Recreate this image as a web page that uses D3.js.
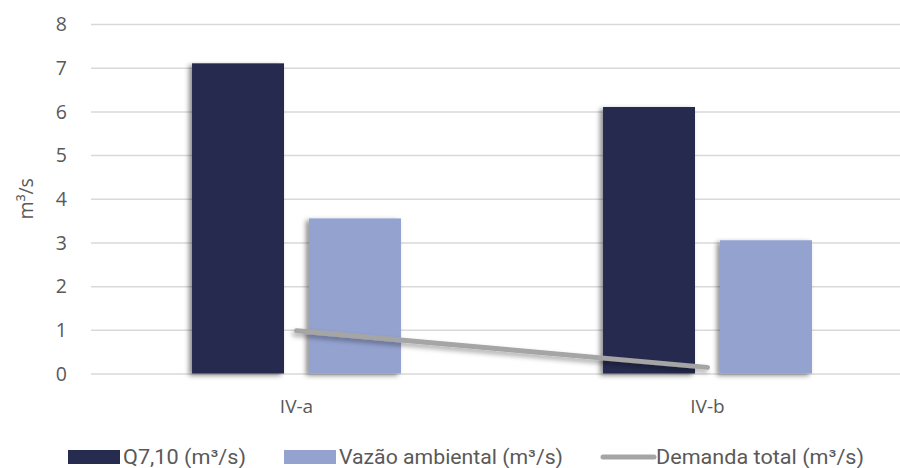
<!DOCTYPE html>
<html>
<head>
<meta charset="utf-8">
<script src="https://cdn.jsdelivr.net/npm/d3@7"></script>
<style>
  html, body { margin: 0; padding: 0; background: #fff; }
  svg { display: block; }
  text { font-family: "Open Sans", "Noto Sans", sans-serif; fill: #595959; }
  .legend text { font-family: "Roboto", "Liberation Sans", sans-serif; }
</style>
</head>
<body>
<svg id="chart" width="900" height="468"></svg>
<script>
// Flow data per sub-basin
const categories = ["IV-a", "IV-b"];
const q710 = [7.1, 6.1];
const vazaoAmbiental = [3.55, 3.05];
const demandaTotal = [0.98, 0.14];
const yTicks = [0, 1, 2, 3, 4, 5, 6, 7, 8];
const seriesNames = ["Q7,10 (m³/s)", "Vazão ambiental (m³/s)", "Demanda total (m³/s)"];

const colors = { q: "#252C50", v: "#94A2D0", d: "#A5A5A5", grid: "#D9D9D9" };

const svg = d3.select("#chart");
const W = 900, H = 468;
const plot = { left: 91, right: 913, top: 24, bottom: 373.5 };

const defs = svg.append("defs");
const shadow = defs.append("filter").attr("id", "shadow")
  .attr("x", "-20%").attr("y", "-10%").attr("width", "140%").attr("height", "130%");
shadow.append("feDropShadow").attr("dx", -3).attr("dy", 2).attr("stdDeviation", 2.5)
  .attr("flood-color", "#000").attr("flood-opacity", 0.45);
const lshadow = defs.append("filter").attr("id", "lshadow")
  .attr("x", "-10%").attr("y", "-100%").attr("width", "120%").attr("height", "400%");
lshadow.append("feDropShadow").attr("dx", -2).attr("dy", 3).attr("stdDeviation", 2.5)
  .attr("flood-color", "#000").attr("flood-opacity", 0.35);

const x = d3.scaleBand().domain(categories).range([plot.left, plot.right]).paddingInner(0).paddingOuter(0);
const y = d3.scaleLinear().domain([0, 8]).range([plot.bottom, plot.top]);

// Bar geometry: groups occupy the middle of each band, with a gap between the two bars
const step = x.bandwidth();
const barW = step * 0.2238;
const barGap = step * 0.0608;
const groupW = barW * 2 + barGap;
const barX = (c, i) => x(c) + (step - groupW) / 2 + i * (barW + barGap);

// Gridlines and value ticks
const yAxis = d3.axisLeft(y).tickValues(yTicks).tickSize(-(W - plot.left)).tickFormat(d3.format("d"));
const ga = svg.append("g").attr("transform", `translate(${plot.left},0)`).call(yAxis);
ga.select(".domain").remove();
ga.selectAll(".tick line").attr("stroke", colors.grid).attr("stroke-width", 1.5);
ga.selectAll(".tick text").attr("x", -24).attr("font-size", 19.5).attr("fill", "#595959")
  .attr("font-family", "'Open Sans', sans-serif")
  .attr("dy", "0.35em").attr("text-anchor", "end");

// Bars
const bars = svg.append("g");
const barSeries = [{ key: "q", values: q710, color: colors.q }, { key: "v", values: vazaoAmbiental, color: colors.v }];
barSeries.forEach((s, i) => {
  bars.selectAll(null).data(categories).enter().append("rect")
    .attr("x", c => barX(c, i))
    .attr("width", barW)
    .attr("y", (c, j) => y(s.values[j]))
    .attr("height", (c, j) => y(0) - y(s.values[j]))
    .attr("fill", s.color)
    .attr("filter", "url(#shadow)");
});

// Demand line through category centres
const line = d3.line().x((d, i) => x(categories[i]) + step / 2).y(d => y(d));
svg.append("path").datum(demandaTotal)
  .attr("d", line)
  .attr("fill", "none")
  .attr("stroke", colors.d)
  .attr("stroke-width", 5)
  .attr("stroke-linecap", "round")
  .attr("filter", "url(#lshadow)");

// Category axis labels
const xAxis = d3.axisBottom(x).tickSize(0).tickPadding(0);
const gx = svg.append("g").attr("transform", `translate(0,${plot.bottom})`).call(xAxis);
gx.select(".domain").remove();
gx.selectAll(".tick text").attr("y", 33).attr("dy", "0.35em").attr("font-size", 19)
  .attr("font-family", "'Open Sans', sans-serif").attr("fill", "#595959");

// Y axis title
svg.append("text")
  .attr("transform", `translate(26,${(plot.top + plot.bottom) / 2}) rotate(-90)`)
  .attr("text-anchor", "middle").attr("dy", "0.35em")
  .attr("font-size", 19.5).text("m³/s");

// Legend
const legend = svg.append("g").attr("class", "legend");
const legendItems = [
  { name: seriesNames[0], type: "rect", color: colors.q, x: 68, w: 123 },
  { name: seriesNames[1], type: "rect", color: colors.v, x: 284, w: 224 },
  { name: seriesNames[2], type: "line", color: colors.d, x: 601, w: 208 }
];
const ly = 457;
legendItems.forEach(it => {
  const g = legend.append("g");
  if (it.type === "rect") {
    g.append("rect").attr("x", it.x).attr("y", ly - 7).attr("width", 52).attr("height", 14).attr("fill", it.color);
  } else {
    g.append("line").attr("x1", it.x + 2).attr("x2", it.x + 53).attr("y1", ly).attr("y2", ly)
      .attr("stroke", it.color).attr("stroke-width", 5).attr("stroke-linecap", "round");
  }
  g.append("text").attr("x", it.x + 55).attr("y", ly).attr("dy", "0.35em")
    .attr("font-size", 20).attr("textLength", it.w).attr("lengthAdjust", "spacingAndGlyphs")
    .text(it.name);
});
</script>
</body>
</html>
